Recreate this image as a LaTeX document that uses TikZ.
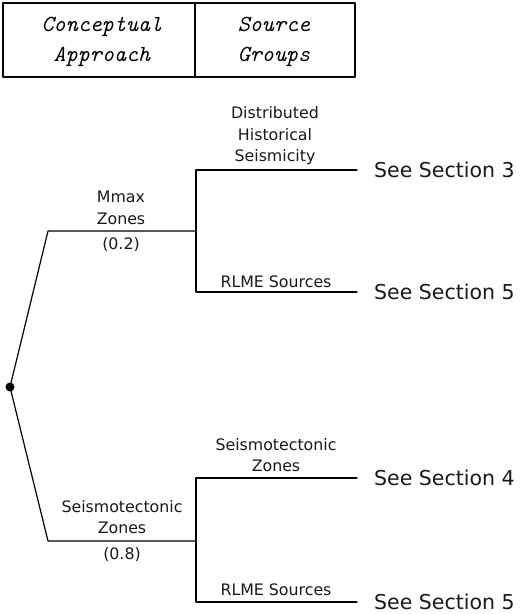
\documentclass[tikz,border=0pt]{standalone}
\usepackage{fontspec}
\setsansfont{DejaVu Sans}
\begin{document}
\begin{tikzpicture}[x=1pt,y=-1pt,
  line/.style={line width=1.2pt,line cap=round,line join=round},
  head/.style={font=\fontsize{23}{30}\selectfont\ttfamily\itshape,align=center,inner sep=0pt},
  lab/.style={font=\fontsize{15.8}{21.5}\selectfont\sffamily,align=center,inner sep=0pt,text=black!90},
  see/.style={font=\fontsize{20.5}{22}\selectfont\sffamily,anchor=west,inner sep=0pt,text=black!90}]
\useasboundingbox (0,0) rectangle (523,614);
% header
\draw[line] (3,3) rectangle (355,77);
\draw[line] (195,3) -- (195,77);
\node[head] (h1) at (102,42) {Conceptual\\Approach};
\node[head] (h2) at (274,42) {Source\\Groups};
% coordinates
\coordinate (root) at (10,387);
\coordinate (ua) at (48,231);
\coordinate (ub) at (196,231);
\coordinate (ut) at (196,170);
\coordinate (ubt) at (196,292);
\coordinate (ute) at (357,170);
\coordinate (ube) at (357,292);
\coordinate (la) at (48,541);
\coordinate (lb) at (196,541);
\coordinate (lt) at (196,478);
\coordinate (lbt) at (196,602);
\coordinate (lte) at (357,478);
\coordinate (lbe) at (357,602);
% branches
\draw[line] (root) -- (ua) -- (ub);
\draw[line] (ute) -- (ut) -- (ubt) -- (ube);
\draw[line] (root) -- (la) -- (lb);
\draw[line] (lte) -- (lt) -- (lbt) -- (lbe);
\fill (root) circle (4.5);
% labels
\node[lab] (mmax) at (121,208) {Mmax\\Zones};
\node[lab] (p02) at (121,245) {(0.2)};
\node[lab] (dhs) at (275,136) {Distributed\\Historical\\Seismicity};
\node[lab] (rl1) at (276,282) {RLME Sources};
\node[lab] (stz) at (122,517) {Seismotectonic\\Zones};
\node[lab] (p08) at (122,555) {(0.8)};
\node[lab] (stz2) at (276,455) {Seismotectonic\\Zones};
\node[lab] (rl2) at (276,590) {RLME Sources};
\node[see] (s3) at (374,170) {See Section 3};
\node[see] (s5a) at (374,292) {See Section 5};
\node[see] (s4) at (374,478) {See Section 4};
\node[see] (s5b) at (374,602) {See Section 5};
\end{tikzpicture}
\end{document}
